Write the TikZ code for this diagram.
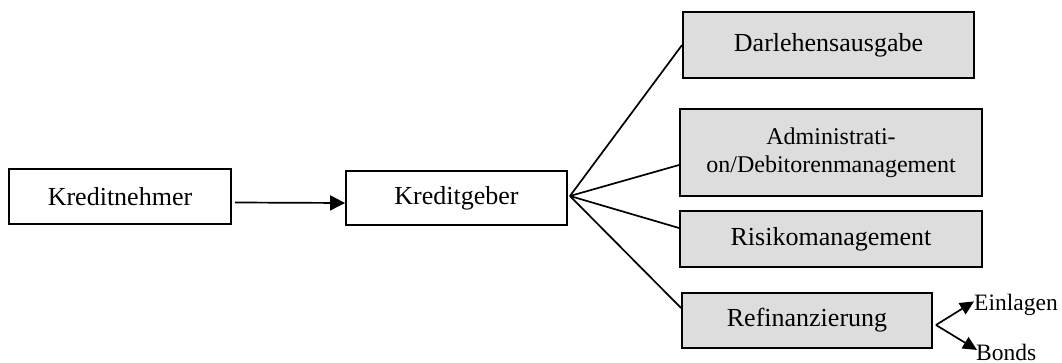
\documentclass[tikz,border=0pt]{standalone}
\usepackage{fontspec}
\setmainfont{Liberation Serif}
\usetikzlibrary{arrows.meta}
\begin{document}
\begin{tikzpicture}[x=1pt,y=-1pt,
  box/.style={draw=black, line width=1.9pt, inner sep=0pt, font=\fontsize{26}{30}\selectfont},
  graybox/.style={box, fill=gray!27},
  conn/.style={line width=1.7pt},
  bigarrow/.style={conn, -{Triangle[length=15pt,width=15pt]}},
  smallarrow/.style={conn, -{Triangle[length=14pt,width=13pt]}},
  lbl/.style={inner sep=0pt, font=\fontsize{23.5}{28}\selectfont}]
\useasboundingbox (0,0) rectangle (1062,363);
\fill[white] (0,0) rectangle (1062,363);

\node[box, minimum width=222pt, minimum height=55pt] (kn) at (120,196.5) {Kreditnehmer};
\node[box, minimum width=221pt, minimum height=54pt] (kg) at (456.5,198) {Kreditgeber};
\node[graybox, minimum width=291pt, minimum height=66pt] (dar) at (828.5,45) {Darlehensausgabe};
\node[graybox, minimum width=302pt, minimum height=87pt, align=center,
      font=\fontsize{24}{28}\selectfont] (adm) at (831,152.5) {Administrati-\\on/Debitorenmanagement};
\node[graybox, minimum width=302pt, minimum height=56pt] (ris) at (831,239) {Risikomanagement};
\node[graybox, minimum width=250pt, minimum height=55pt] (ref) at (807,320.5) {Refinanzierung};

\node[lbl, anchor=base west] (ein) at (974,310) {Einlagen};
\node[lbl, anchor=base west] (bon) at (976,360) {Bonds};

\coordinate (fan) at ([shift={(2,-2)}]kg.east);
\coordinate (fork) at ([shift={(3,4.5)}]ref.east);

\draw[bigarrow] ([shift={(3,6)}]kn.east) -- ([shift={(0,5)}]kg.west);
\draw[conn] (fan) -- (dar.west);
\draw[conn] (fan) -- ([shift={(0,12.5)}]adm.west);
\draw[conn] (fan) -- ([shift={(0,-11)}]ris.west);
\draw[conn] (fan) -- ([shift={(0,-12.5)}]ref.west);
\draw[smallarrow] (fork) -- ([shift={(0,-3)}]ein.west);
\draw[smallarrow] (fork) -- ([shift={(1,-2)}]bon.west);
\end{tikzpicture}
\end{document}
